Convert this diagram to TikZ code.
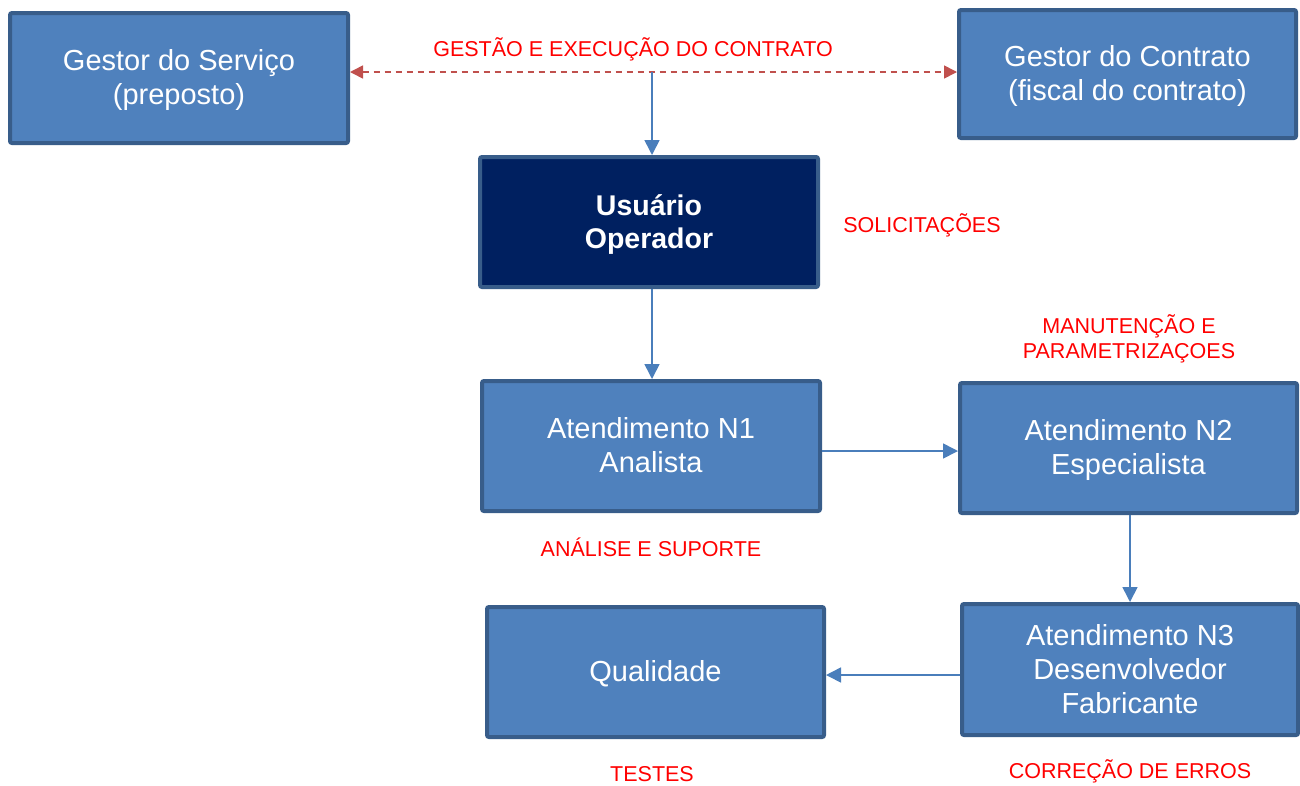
\documentclass[tikz,border=0pt]{standalone}
\usepackage{fontspec}
\setmainfont{Liberation Sans}
\usetikzlibrary{arrows.meta}
\definecolor{boxfill}{HTML}{4F81BD}
\definecolor{boxborder}{HTML}{385D8A}
\definecolor{navy}{HTML}{002060}
\definecolor{arrowblue}{HTML}{4A7EBB}
\definecolor{dashred}{HTML}{C0504D}
\definecolor{labelred}{HTML}{FF0000}
\newcommand\topbx{\rule{0pt}{27pt}}
\newcommand\botbx{\rule[-8pt]{0pt}{8pt}}
\tikzset{
  box/.style={draw=boxborder, line width=4pt, fill=boxfill, rounded corners=2pt,
    text=white, align=center, inner sep=0pt,
    font=\fontsize{29}{34}\selectfont},
  darkbox/.style={box, fill=navy, font=\fontsize{28.5}{33}\selectfont\bfseries},
  lbl/.style={text=labelred, align=center, font=\fontsize{21.5}{25}\selectfont},
  conn/.style={draw=arrowblue, line width=1.6pt, -{Triangle[length=15pt,width=15pt]}},
  dconn/.style={draw=dashred, line width=1.6pt, dash pattern=on 6pt off 5pt,
    {Triangle[length=13pt,width=13pt]}-{Triangle[length=13pt,width=13pt]}}
}
\begin{document}
\begin{tikzpicture}[x=1pt,y=-1pt]
\useasboundingbox (0,0) rectangle (1300,785);
\node[box, minimum width=338pt, minimum height=130pt] (gs) at (179,78) {\topbx Gestor do Serviço\\(preposto)\botbx};
\node[box, minimum width=337pt, minimum height=128pt] (gc) at (1127.5,74) {\topbx Gestor do Contrato\\(fiscal do contrato)\botbx};
\node[darkbox, minimum width=338pt, minimum height=130pt] (uo) at (649,222) {\topbx Usuário\\Operador\botbx};
\node[box, minimum width=338pt, minimum height=130pt] (n1) at (651,446) {\topbx Atendimento N1\\Analista\botbx};
\node[box, minimum width=337pt, minimum height=130pt] (n2) at (1128.5,448) {\topbx Atendimento N2\\Especialista\botbx};
\node[box, minimum width=337pt, minimum height=130pt] (q) at (655.5,672) {\topbx Qualidade\botbx};
\node[box, minimum width=336pt, minimum height=131pt] (n3) at (1130,669.5) {\topbx Atendimento N3\\Desenvolvedor\\Fabricante\botbx};

\coordinate (mid) at (652,72);
\draw[dconn] (gs.east |- mid) -- (gc.west |- mid);
\draw[conn] (mid) -- (mid |- uo.north);
\draw[conn] (mid |- uo.south) -- (mid |- n1.north);
\coordinate (r1) at (0,451);
\draw[conn] (n1.east |- r1) -- (n2.west |- r1);
\coordinate (c2) at (1130,0);
\draw[conn] (c2 |- n2.south) -- (c2 |- n3.north);
\coordinate (r3) at (0,675);
\draw[conn] (n3.west |- r3) -- (q.east |- r3);

\node[lbl] (l1) at (633,49) {GESTÃO E EXECUÇÃO DO CONTRATO};
\node[lbl] (l2) at (922,225) {SOLICITAÇÕES};
\node[lbl] (l3) at (1129,339) {MANUTENÇÃO E\\PARAMETRIZAÇOES};
\node[lbl] (l4) at (651,547) {ANÁLISE E SUPORTE};
\node[lbl] (l5) at (652,774) {TESTES};
\node[lbl] (l6) at (1130,771) {CORREÇÃO DE ERROS};
\end{tikzpicture}
\end{document}
